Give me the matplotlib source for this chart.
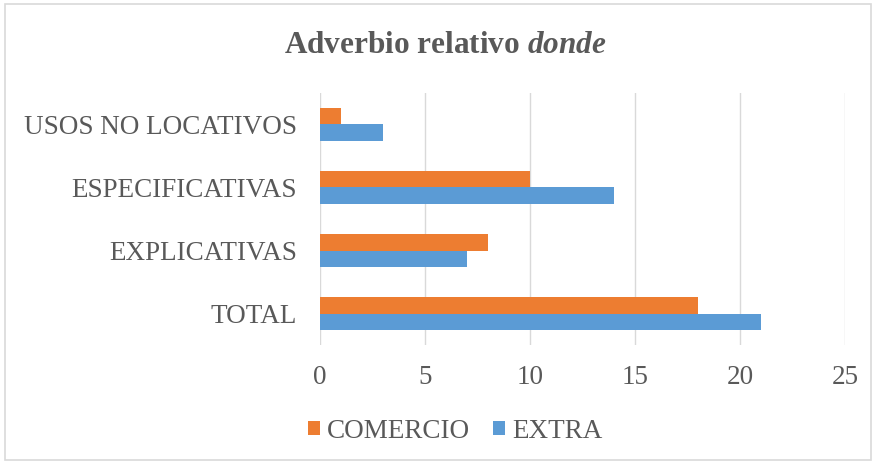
import matplotlib.pyplot as plt
import numpy as np
from matplotlib.patches import Rectangle

categories = ['TOTAL', 'EXPLICATIVAS', 'ESPECIFICATIVAS', 'USOS NO LOCATIVOS']
comercio = [18, 8, 10, 1]
extra = [21, 7, 14, 3]

orange = '#ED7D31'
blue = '#5B9BD5'
gray = '#595959'

plt.rcParams['font.family'] = 'Liberation Serif'
plt.rcParams['mathtext.fontset'] = 'custom'
plt.rcParams['mathtext.rm'] = 'Liberation Serif'
plt.rcParams['mathtext.it'] = 'Liberation Serif:italic:bold'
plt.rcParams['mathtext.bf'] = 'Liberation Serif:bold'

fig = plt.figure(figsize=(8.74, 4.62), dpi=100)
ax = fig.add_axes([0.366, 0.253, 0.601, 0.546])

y = np.arange(len(categories))
h = 0.26
ax.barh(y + h / 2, comercio, height=h, color=orange, label='COMERCIO', zorder=3)
ax.barh(y - h / 2, extra, height=h, color=blue, label='EXTRA', zorder=3)

ax.set_xlim(0, 25)
ax.set_ylim(-0.5, 3.5)
ax.set_xticks(range(0, 26, 5))
ax.set_yticks(y)
ax.set_yticklabels(categories)
ax.tick_params(axis='both', length=0, labelsize=19.5, colors=gray)
ax.tick_params(axis='x', pad=14)
ax.tick_params(axis='y', pad=16.5)
ax.grid(axis='x', color='#D9D9D9', linewidth=1, zorder=0)
for s in ax.spines.values():
    s.set_visible(False)

fig.text(0.509, 0.902, 'Adverbio relativo $\\it{donde}$', ha='center', va='center',
         fontsize=22.5, fontweight='bold', color=gray)

handles, labels = ax.get_legend_handles_labels()
leg = fig.legend(handles, labels, loc='center', bbox_to_anchor=(0.521, 0.067), ncol=2,
                 frameon=False, fontsize=19.5, handlelength=0.45, handleheight=0.45,
                 handletextpad=0.25, columnspacing=0.85)
for t in leg.get_texts():
    t.set_color(gray)

fig.patches.append(Rectangle((0.006, 0.004), 0.99, 0.987, transform=fig.transFigure,
                             fill=False, edgecolor='#D9D9D9', linewidth=1.2))

fig.savefig('out.png', dpi=100)
